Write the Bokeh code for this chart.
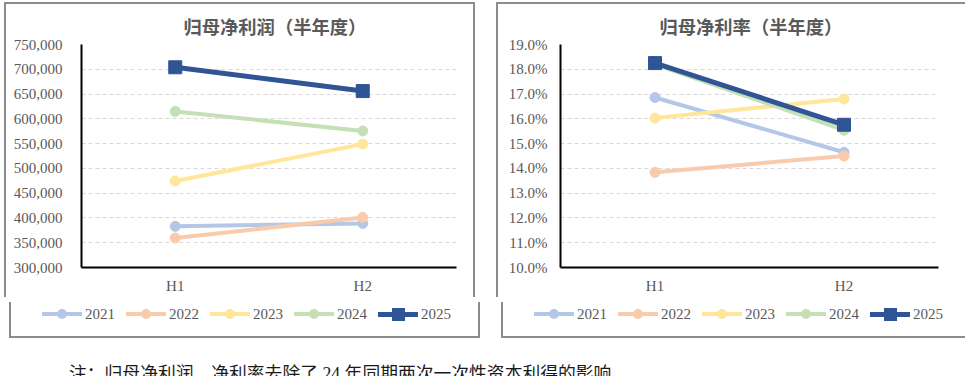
from bokeh.plotting import figure
from bokeh.models import (FactorRange, Range1d, FixedTicker, NumeralTickFormatter,
                          Div, ColumnDataSource)
from bokeh.layouts import row, column
from bokeh.embed import file_html
from bokeh.resources import INLINE

periods = ["H1", "H2"]
years = ["2021", "2022", "2023", "2024", "2025"]
colors = ["#B4C7E7", "#F8CBAD", "#FFE699", "#C5E0B4", "#2F5597"]

profit_2021 = [383000, 389000]
profit_2022 = [359500, 401000]
profit_2023 = [474500, 549000]
profit_2024 = [615000, 575500]
profit_2025 = [704000, 656000]

margin_2021 = [0.1686, 0.1465]
margin_2022 = [0.1384, 0.1450]
margin_2023 = [0.1603, 0.1680]
margin_2024 = [0.1820, 0.1554]
margin_2025 = [0.1825, 0.1576]

profit_ticks = [300000, 350000, 400000, 450000, 500000, 550000, 600000, 650000, 700000, 750000]
margin_ticks = [0.10, 0.11, 0.12, 0.13, 0.14, 0.15, 0.16, 0.17, 0.18, 0.19]

title_left = "归母净利润（半年度）"
title_right = "归母净利率（半年度）"
note_text = "注：归母净利润、净利率去除了 24 年同期两次一次性资本利得的影响。"

SERIF = "Liberation Serif"
CJK = "Noto Sans CJK SC"
GREY = "#595959"
BORDER = "2px solid #8c8c8c"


def style_of(yr, col):
    if yr == "2025":
        return dict(line_width=5, marker="square", size=13, color=col)
    return dict(line_width=4, marker="circle", size=10, color=col)


def make_chart(title, series, ticks, fmt, ml, mr, standoff, title_off):
    p = figure(x_range=FactorRange(*periods, range_padding=0),
               y_range=Range1d(ticks[0], ticks[-1]),
               width=471, height=295, output_backend="svg", toolbar_location=None,
               min_border_left=ml, min_border_right=mr, min_border_top=34, min_border_bottom=32)
    p.styles = {"border": BORDER, "border-bottom": "none"}
    p.outline_line_color = None
    p.title.text = title
    p.title.text_font = CJK
    p.title.text_font_size = "18.3px"
    p.title.text_font_style = "bold"
    p.title.text_color = GREY
    p.title.align = "left"
    p.title.standoff = 12
    p.title.offset = title_off

    p.xgrid.grid_line_color = None
    p.ygrid.grid_line_color = "#d9d9d9"
    p.ygrid.grid_line_dash = "4 3"
    p.ygrid.grid_line_width = 1

    p.yaxis.ticker = FixedTicker(ticks=ticks)
    p.yaxis.formatter = NumeralTickFormatter(format=fmt)
    for ax in (p.xaxis[0], p.yaxis[0]):
        ax.axis_line_color = "black"
        ax.axis_line_width = 2
        ax.major_tick_line_color = None
        ax.minor_tick_line_color = None
        ax.major_tick_out = 0
        ax.major_tick_in = 0
        ax.major_label_text_font = SERIF
        ax.major_label_text_font_size = "15px"
        ax.major_label_text_color = GREY
    p.yaxis.major_label_standoff = standoff
    p.xaxis.major_label_standoff = 10

    for yr, col, vals in zip(years, colors, series):
        st = style_of(yr, col)
        src = ColumnDataSource(dict(x=periods, y=vals))
        p.line("x", "y", source=src, line_color=col, line_width=st["line_width"])
        p.scatter("x", "y", source=src, marker=st["marker"], size=st["size"],
                  fill_color=col, line_color=col)
    return p


def make_legend_strip():
    parts = []
    for yr, col in zip(years, colors):
        st = style_of(yr, col)
        lw, s = st["line_width"], st["size"]
        radius = "0" if st["marker"] == "square" else "50%"
        parts.append(
            '<span style="display:inline-flex;align-items:center;margin-right:11px">'
            f'<span style="position:relative;display:inline-block;width:40px;height:{lw}px;'
            f'background:{col}">'
            f'<span style="position:absolute;left:{20 - s / 2}px;top:{lw / 2 - s / 2}px;'
            f'width:{s}px;height:{s}px;background:{col};border-radius:{radius}"></span>'
            '</span>'
            f'<span style="margin-left:3px">{yr}</span></span>')
    html = ('<div style="box-sizing:border-box;width:471px;height:36px;'
            f'border:{BORDER};border-top:none;padding-left:31px;padding-bottom:10px;'
            'white-space:nowrap;display:flex;align-items:center;background:white;'
            "font-family:'Liberation Serif',serif;font-size:15px;line-height:17px;"
            f'color:{GREY}">' + "".join(parts) + '</div>')
    return Div(text=html, width=471, height=36)


p1 = make_chart(title_left, [profit_2021, profit_2022, profit_2023, profit_2024, profit_2025],
                profit_ticks, "0,0", 75, 21, 19, 102)
p2 = make_chart(title_right, [margin_2021, margin_2022, margin_2023, margin_2024, margin_2025],
                margin_ticks, "0.0%", 62, 31, 13, 99)
l1 = make_legend_strip()
l2 = make_legend_strip()

note = Div(text=note_text, width=700, height=36,
           styles={"padding-left": "60px", "padding-top": "16px", "font-size": "17.8px",
                   "line-height": "20px", "color": "#1a1a1a",
                   "font-family": "'Liberation Serif', 'Noto Sans CJK SC', serif"})

layout = column(row(column(p1, l1, spacing=0), column(p2, l2, spacing=0), spacing=11),
                note, spacing=0,
                styles={"margin-left": "4px", "margin-top": "2px"})

open("out.html", "w").write(file_html(layout, INLINE))
